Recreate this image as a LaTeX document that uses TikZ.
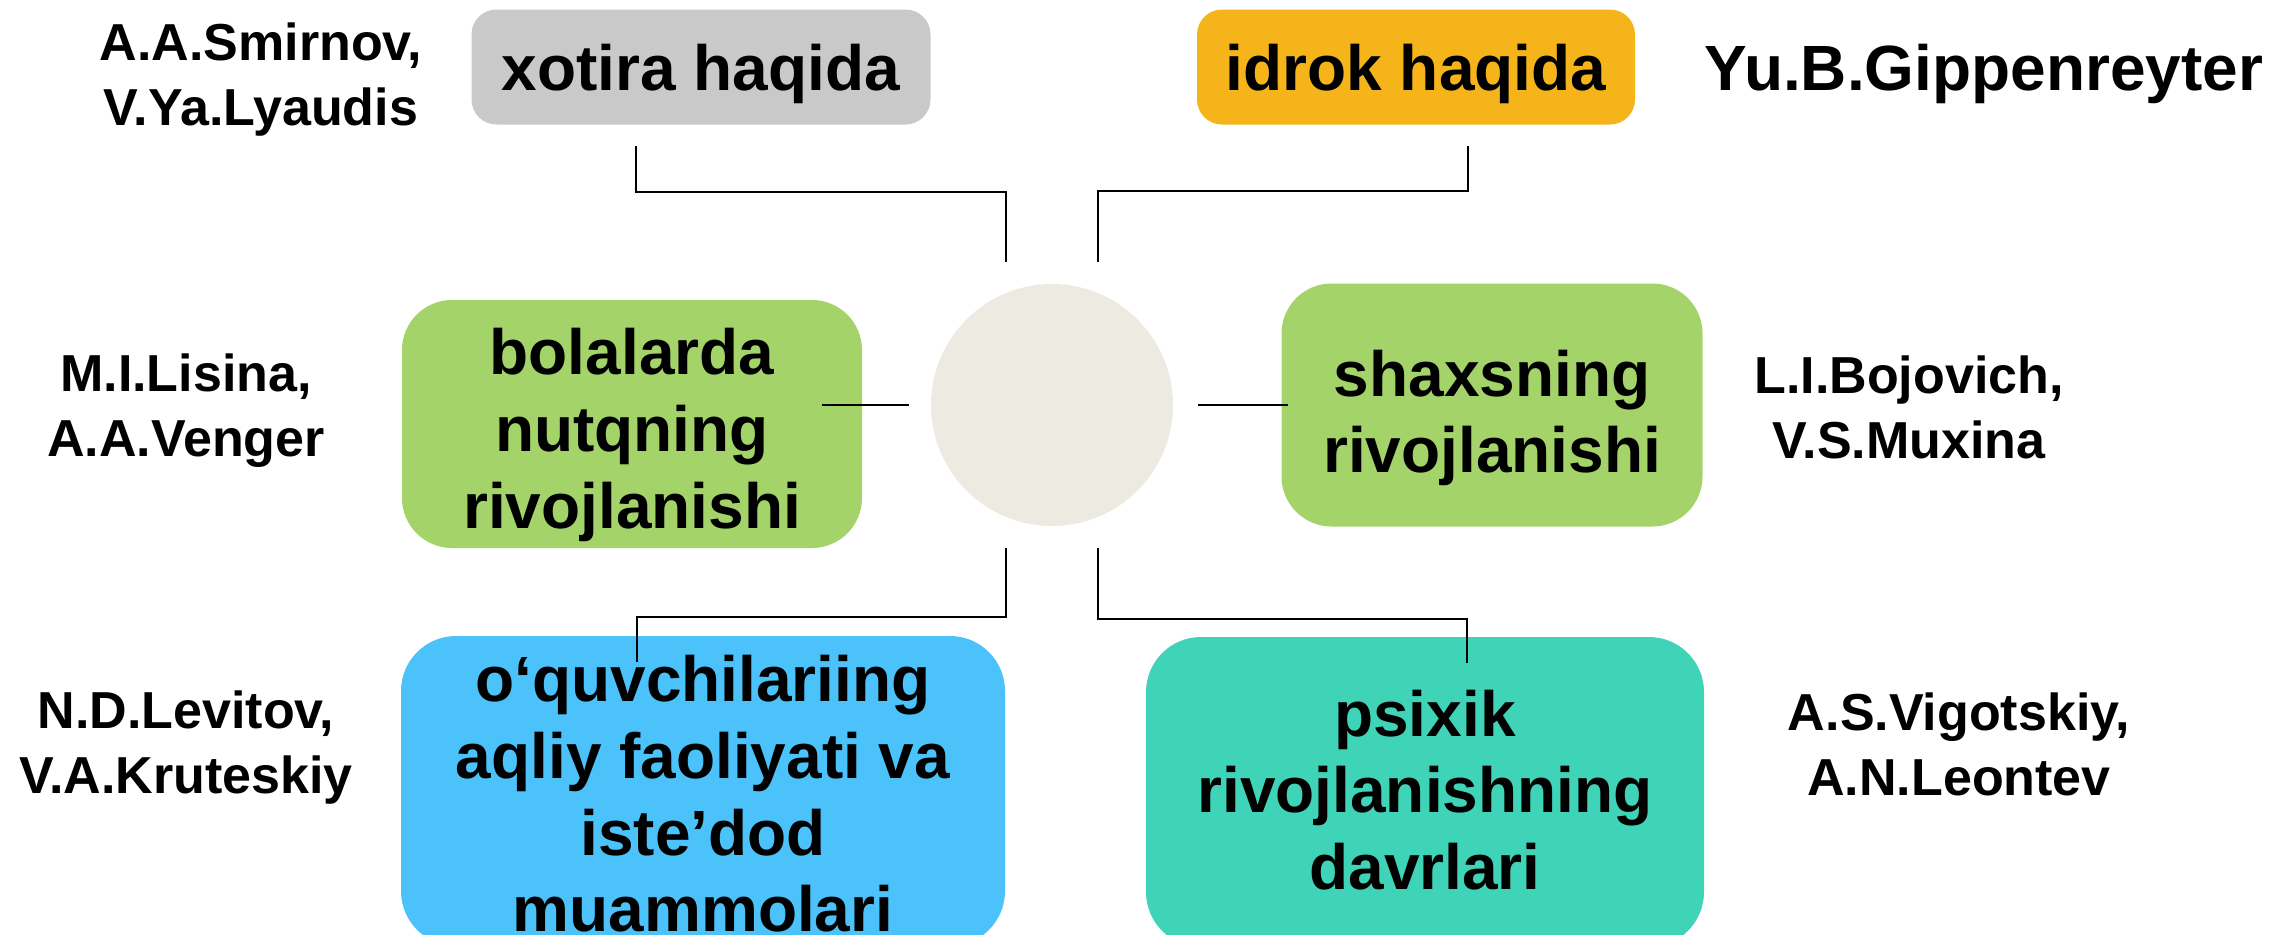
\documentclass[tikz,border=0pt]{standalone}
\usepackage{fontspec}
\setmainfont{Liberation Sans}

\definecolor{memgrey}{HTML}{C9C9C9}
\definecolor{percorange}{HTML}{F5B41A}
\definecolor{devgreen}{HTML}{A4D36A}
\definecolor{hubbeige}{HTML}{EDEBE1}
\definecolor{pupilblue}{HTML}{4BC2F9}
\definecolor{stageteal}{HTML}{3FD4B8}

\newcommand{\topicfnt}{\fontsize{18.2}{21.8}\selectfont\bfseries}
\newcommand{\namefnt}{\fontsize{14.8}{18.5}\selectfont\bfseries}

\begin{document}
\begin{tikzpicture}[x=0.1mm, y=-0.1mm,
    card/.style={inner sep=0pt},
    topic/.style={inner sep=0pt, align=center, font=\topicfnt},
    author/.style={inner sep=0pt, align=center, font=\namefnt},
    link/.style={line width=0.55pt, black}]
    \useasboundingbox (0,0) rectangle (2269,934);
    \clip (0,0) rectangle (2269,934);

    % the hub in the middle
    \node[circle, fill=hubbeige, minimum size=24.2mm, inner sep=0pt] (hub) at (1052,405) {};

    % topic boxes
    \node[card, fill=memgrey, rounded corners=2.5mm, minimum width=45.9mm, minimum height=11.5mm]
        (memory) at (701,67) {};
    \node[card, fill=percorange, rounded corners=2.5mm, minimum width=43.8mm, minimum height=11.5mm]
        (percept) at (1416,67) {};
    \node[card, fill=devgreen, rounded corners=5mm, minimum width=46mm, minimum height=24.8mm]
        (speech) at (632,424) {};
    \node[card, fill=devgreen, rounded corners=5mm, minimum width=42.1mm, minimum height=24.3mm]
        (person) at (1492,405) {};
    \node[card, fill=pupilblue, rounded corners=5.5mm, minimum width=60.4mm, minimum height=31mm]
        (pupil) at (703,791) {};
    \node[card, fill=stageteal, rounded corners=5.5mm, minimum width=55.8mm, minimum height=31mm]
        (stages) at (1425,792) {};

    % texts of the boxes
    \node[topic] (memorytext) at ([yshift=-0.7mm]memory) {xotira haqida};
    \node[topic] (percepttext) at ([yshift=-0.7mm]percept) {idrok haqida};
    \node[topic] (speechtext) at ([yshift=-1.1mm]speech) {bolalarda\\nutqning\\rivojlanishi};
    \node[topic] (persontext) at ([yshift=-1.3mm]person) {shaxsning\\rivojlanishi};
    \node[topic] (pupiltext) at ([yshift=-0.3mm]pupil) {o‘quvchilariing\\aqliy faoliyati va\\iste’dod\\muammolari};
    \node[topic] (stagestext) at ([yshift=0.2mm]stages) {psixik\\rivojlanishning\\davrlari};

    % authors
    \node[author] (smirnov) at (261,80) {A.A.Smirnov,\\V.Ya.Lyaudis};
    \node[author, font=\topicfnt] (gippen) at (1984,74) {Yu.B.Gippenreyter};
    \node[author] (lisina) at (186,411) {M.I.Lisina,\\A.A.Venger};
    \node[author] (bojovich) at (1909,407) {L.I.Bojovich,\\V.S.Muxina};
    \node[author] (levitov) at (186,748) {N.D.Levitov,\\V.A.Kruteskiy};
    \node[author] (vigotskiy) at (1959,744) {A.S.Vigotskiy,\\A.N.Leontev};

    % connector ends
    \coordinate (MemA) at (636,146);
    \coordinate (MemB) at (1006,192);
    \coordinate (MemC) at (1006,262);
    \coordinate (PerA) at (1468,146);
    \coordinate (PerB) at (1098,191);
    \coordinate (PerC) at (1098,262);
    \coordinate (SpeA) at (822,405);
    \coordinate (SpeB) at (909,405);
    \coordinate (PrsA) at (1198,405);
    \coordinate (PrsB) at (1288,405);
    \coordinate (PupA) at (1006,548);
    \coordinate (PupB) at (637,617);
    \coordinate (PupC) at (637,662);
    \coordinate (StgA) at (1098,548);
    \coordinate (StgB) at (1467,619);
    \coordinate (StgC) at (1467,663);

    \draw[link] (MemA) |- (MemB) -- (MemC);% xotira
    \draw[link] (PerA) |- (PerB) -- (PerC);% idrok
    \draw[link] (SpeA) -- (SpeB);% nutq
    \draw[link] (PrsA) -- (PrsB);% shaxs
    \draw[link] (PupA) |- (PupB) -- (PupC);% aqliy faoliyat
    \draw[link] (StgA) |- (StgB) -- (StgC);% davrlar
\end{tikzpicture}
\end{document}
